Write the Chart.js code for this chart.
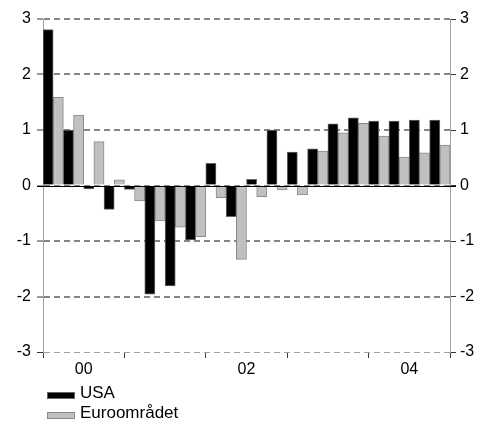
<!DOCTYPE html>
<html>
<head>
<meta charset="utf-8">
<script src="https://cdn.jsdelivr.net/npm/chart.js@4/dist/chart.umd.min.js"></script>
<style>
  body { margin: 0; background: #fff; }
  #wrap { position: relative; width: 490px; height: 421px; }
  #legend { position: absolute; left: 47px; top: 383px; font: 17px "Liberation Sans", Arial, sans-serif; color: #000; }
  #legend div { height: 20px; display: flex; align-items: center; white-space: nowrap; }
  #legend span.box { display: inline-block; width: 26px; height: 5px; margin-right: 5px; position: relative; top: 2px; border: 1px solid; }
</style>
</head>
<body>
<div id="wrap">
  <canvas id="chart" width="490" height="421"></canvas>
  <div id="legend"></div>
</div>
<script>
// quarters 2000 K1 .. 2004 K4
var quarters = [];
for (var y = 2000; y <= 2004; y++) {
  for (var q = 1; q <= 4; q++) quarters.push(y + ' K' + q);
}

var usaData = [2.81, 1.0, -0.06, -0.43,
               -0.07, -1.96, -1.81, -0.98,
               0.40, -0.56, 0.11, 1.0,
               0.60, 0.66, 1.11, 1.22,
               1.16, 1.16, 1.18, 1.18];

var euroData = [1.59, 1.27, 0.79, 0.10,
                -0.28, -0.64, -0.75, -0.92,
                -0.22, -1.33, -0.20, -0.08,
                -0.17, 0.62, 0.95, 1.12,
                0.89, 0.51, 0.59, 0.73];

// one label per year, only every other year shown
var yearTicks = ['00', '', '02', '', '04'];

var yTicks = [-3, -2, -1, 0, 1, 2, 3];

var fontSpec = { family: '"Liberation Sans", Arial, sans-serif', size: 16 };

// solid line at zero, drawn over the bars
const zeroLine = {
  id: 'zeroLine',
  afterDatasetsDraw(chart) {
    const ctx = chart.ctx;
    const area = chart.chartArea;
    const y0 = Math.round(chart.scales.y.getPixelForValue(0)) + 0.5;
    ctx.save();
    ctx.strokeStyle = '#000';
    ctx.lineWidth = 1;
    ctx.beginPath();
    ctx.moveTo(area.left - 6, y0);
    ctx.lineTo(area.right + 6, y0);
    ctx.stroke();
    ctx.restore();
  }
};

var chart = new Chart(document.getElementById('chart'), {
  type: 'bar',
  data: {
    labels: quarters,
    datasets: [{
      label: 'USA',
      data: usaData,
      backgroundColor: '#000000',
      borderColor: '#666666',
      borderWidth: 1
    }, {
      label: 'Euroområdet',
      data: euroData,
      backgroundColor: '#c0c0c0',
      borderColor: '#8a8a8a',
      borderWidth: 1
    }]
  },
  options: {
    responsive: false,
    animation: false,
    datasets: { bar: { categoryPercentage: 1.0, barPercentage: 1.0 } },
    layout: { padding: { top: 19, left: 0, right: 0, bottom: 0 } },
    plugins: {
      legend: { display: false },
      tooltip: { enabled: false }
    },
    scales: {
      x: { display: false },
      xYear: {
        type: 'linear',
        position: 'bottom',
        min: 0,
        max: 20,
        offset: false,
        afterFit: (s) => { s.height = 69; },
        afterBuildTicks: (s) => {
          s.ticks = [];
          for (var i = 0; i <= 20; i++) s.ticks.push({ value: i });
        },
        border: { display: false },
        grid: {
          offset: false,
          drawOnChartArea: false,
          tickLength: 6,
          color: (c) => (c.tick && c.tick.value % 4 === 0) ? '#404040' : 'rgba(0,0,0,0)'
        },
        ticks: {
          autoSkip: false,
          maxRotation: 0,
          padding: 2,
          color: '#000',
          font: fontSpec,
          callback: (v) => (v % 4 === 2) ? yearTicks[(v - 2) / 4] : ''
        }
      },
      y: {
        position: 'left',
        min: -3,
        max: 3,
        afterFit: (s) => { s.width = 43; },
        afterBuildTicks: (s) => { s.ticks = yTicks.map((v) => ({ value: v })); },
        border: { color: '#a0a0a0', dash: [6, 4] },
        grid: {
          color: (c) => (c.tick && c.tick.value === -3) ? '#a0a0a0' : '#858585',
          lineWidth: (c) => (c.tick && c.tick.value === -3) ? 1 : 2,
          tickColor: '#333333',
          tickWidth: 1,
          tickLength: 6
        },
        ticks: { padding: 6, color: '#000', font: fontSpec }
      },
      y2: {
        position: 'right',
        min: -3,
        max: 3,
        afterFit: (s) => { s.width = 40; },
        afterBuildTicks: (s) => { s.ticks = yTicks.map((v) => ({ value: v })); },
        border: { color: '#a0a0a0' },
        grid: {
          drawOnChartArea: false,
          tickColor: '#333333',
          tickLength: 6
        },
        ticks: { padding: 4, color: '#000', font: fontSpec }
      }
    }
  },
  plugins: [zeroLine]
});

// legend stacked under the axis, built from the datasets
var legendEl = document.getElementById('legend');
chart.data.datasets.forEach(function (ds) {
  var row = document.createElement('div');
  var box = document.createElement('span');
  box.className = 'box';
  box.style.background = ds.backgroundColor;
  box.style.borderColor = ds.borderColor;
  row.appendChild(box);
  row.appendChild(document.createTextNode(ds.label));
  legendEl.appendChild(row);
});
</script>
</body>
</html>
